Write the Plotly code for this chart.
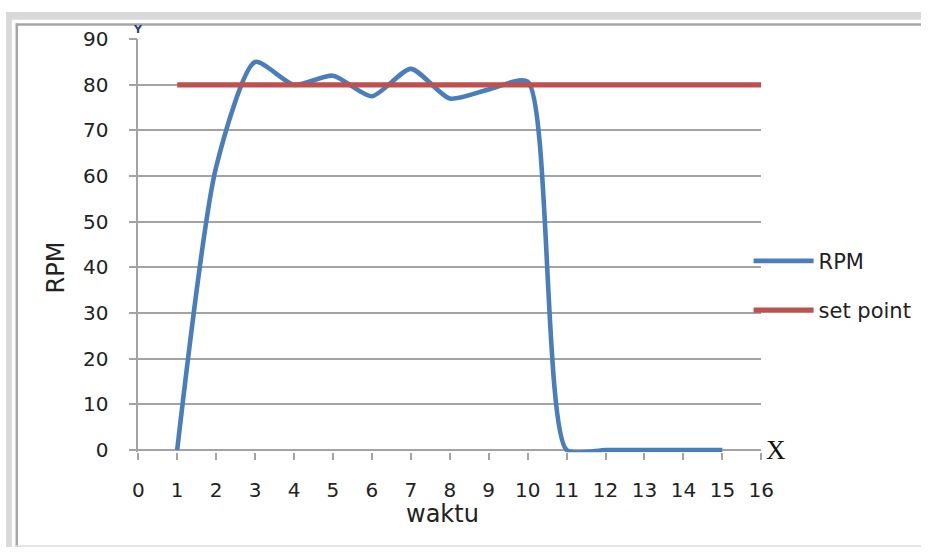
import plotly.graph_objects as go

# RPM response over time and the constant set point
waktu = [1, 2, 3, 4, 5, 6, 7, 8, 9, 10, 11, 12, 13, 14, 15]
rpm = [0, 62, 85, 80, 82, 77.5, 83.5, 77, 79, 80.7, 0, 0, 0, 0, 0]
set_x = [1, 16]
set_point = [80, 80]

x_ticks = list(range(0, 17))
y_ticks = list(range(0, 100, 10))

W, H = 934, 557
GRID = "#a3a3a3"
TEXT = "#222222"
FONT = "DejaVu Sans"


def px(x):
    return x / W


def py(y):
    return 1 - y / H


fig = go.Figure()
fig.add_trace(go.Scatter(
    x=waktu, y=rpm, name="RPM", mode="lines",
    line=dict(color="#4a7ebb", width=4.6, shape="spline", smoothing=0.65),
    legendgroup="a",
))
fig.add_trace(go.Scatter(
    x=set_x, y=set_point, name="set point", mode="lines",
    line=dict(color="#c0504d", width=5.2),
    legendgroup="b",
))

shapes = [
    # grey page strips and the chart frame
    dict(type="rect", xref="paper", yref="paper", x0=0, x1=1, y0=py(8), y1=1,
         fillcolor="#d9d9d9", line_width=0, layer="below"),
    dict(type="rect", xref="paper", yref="paper", x0=0, x1=px(6), y0=0, y1=1,
         fillcolor="#d9d9d9", line_width=0, layer="below"),
    dict(type="line", xref="paper", yref="paper", x0=px(10), x1=1, y0=py(13), y1=py(13),
         line=dict(color="#a6a6a6", width=2.5)),
    dict(type="line", xref="paper", yref="paper", x0=px(11), x1=px(11), y0=0, y1=py(12),
         line=dict(color="#a6a6a6", width=2.5)),
    dict(type="line", xref="paper", yref="paper", x0=px(10), x1=1, y0=py(556), y1=py(556),
         line=dict(color="#dcdcdc", width=1.5)),
]

annotations = [
    dict(text="<b>Y</b>", xref="paper", yref="paper", x=px(135), y=py(18), showarrow=False,
         font=dict(family=FONT, size=11, color="#2f3b6b"), xanchor="center", yanchor="middle"),
    dict(text="X", xref="paper", yref="paper", x=px(786), y=py(456), showarrow=False,
         font=dict(family="Liberation Serif", size=27, color="#111111"),
         xanchor="center", yanchor="middle"),
    dict(text="waktu", xref="paper", yref="paper", x=px(446), y=py(523), showarrow=False,
         font=dict(family=FONT, size=24, color=TEXT), xanchor="center", yanchor="middle"),
    dict(text="RPM", xref="paper", yref="paper", x=px(52), y=py(266), showarrow=False,
         textangle=-90, font=dict(family=FONT, size=24, color=TEXT),
         xanchor="center", yanchor="middle"),
]

fig.update_layout(
    width=W, height=H, autosize=False,
    margin=dict(l=0, r=0, t=0, b=0),
    paper_bgcolor="white", plot_bgcolor="white",
    font=dict(family=FONT, color=TEXT),
    showlegend=True,
    legend=dict(
        x=px(758), y=py(285), xanchor="left", yanchor="middle",
        font=dict(family=FONT, size=21, color=TEXT),
        tracegroupgap=19, itemwidth=60, bgcolor="rgba(0,0,0,0)",
    ),
    xaxis=dict(
        domain=[px(135), px(771)], range=[0, 16],
        tickmode="array", tickvals=x_ticks, ticktext=[str(v) for v in x_ticks],
        showgrid=False, zeroline=False, showline=False,
        ticks="outside", ticklen=7, tickwidth=1.5, tickcolor=GRID,
        ticklabelstandoff=13,
        tickfont=dict(family=FONT, size=20, color=TEXT),
    ),
    yaxis=dict(
        domain=[py(458.4), py(28.3)], range=[-0.5, 90],
        tickmode="array", tickvals=y_ticks, ticktext=[str(v) for v in y_ticks],
        showgrid=True, gridcolor=GRID, gridwidth=1.5,
        zeroline=True, zerolinecolor=GRID, zerolinewidth=1.5,
        showline=True, linecolor=GRID, linewidth=1.5,
        ticks="outside", ticklen=8, tickwidth=1.5, tickcolor=GRID,
        ticklabelstandoff=16,
        tickfont=dict(family=FONT, size=20, color=TEXT),
    ),
    shapes=shapes,
    annotations=annotations,
)

fig.write_html("out.html")
